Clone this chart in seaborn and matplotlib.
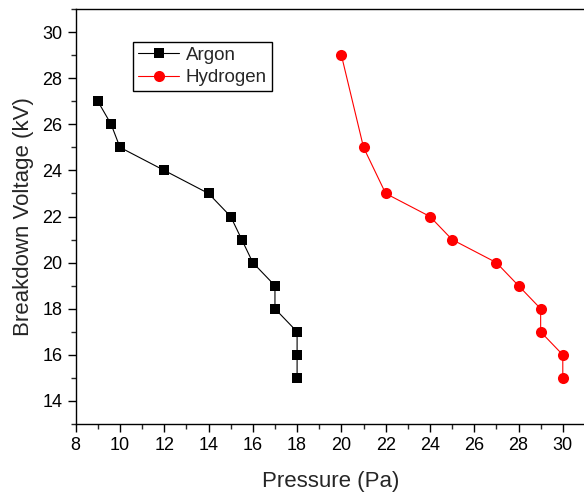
import numpy as np
import pandas as pd
import matplotlib
matplotlib.use("Agg")
import matplotlib.pyplot as plt
from matplotlib.ticker import MultipleLocator
import seaborn as sns

# Breakdown data
argon_pressure = [9, 9.6, 10, 12, 14, 15, 15.5, 16, 17, 17, 18, 18, 18]
argon_voltage = [27, 26, 25, 24, 23, 22, 21, 20, 19, 18, 17, 16, 15]

hydrogen_pressure = [20, 21, 22, 24, 25, 27, 28, 29, 29, 30, 30]
hydrogen_voltage = [29, 25, 23, 22, 21, 20, 19, 18, 17, 16, 15]

x_ticks = [8, 10, 12, 14, 16, 18, 20, 22, 24, 26, 28, 30]
y_ticks = [14, 16, 18, 20, 22, 24, 26, 28, 30]

sns.set_theme(style="ticks")
plt.rcParams['font.family'] = ['Liberation Sans', 'DejaVu Sans']

df_ar = pd.DataFrame({'Pressure': argon_pressure, 'Voltage': argon_voltage})
df_h2 = pd.DataFrame({'Pressure': hydrogen_pressure, 'Voltage': hydrogen_voltage})

fig = plt.figure(figsize=(5.84, 4.95), dpi=100)
ax = fig.add_axes([0.1296, 0.1434, 0.872, 0.8384])

sns.lineplot(data=df_ar, x='Pressure', y='Voltage', sort=False, estimator=None,
             color='black', marker='s', markersize=7, markeredgewidth=0,
             linewidth=0.8, label='Argon', ax=ax)
sns.lineplot(data=df_h2, x='Pressure', y='Voltage', sort=False, estimator=None,
             color='#ff0000', marker='o', markersize=8, markeredgewidth=0,
             linewidth=0.8, label='Hydrogen', ax=ax)

ax.set_xlim(8, 31)
ax.set_ylim(13, 31)
ax.set_xticks(x_ticks)
ax.set_yticks(y_ticks)
ax.xaxis.set_minor_locator(MultipleLocator(1))
ax.yaxis.set_minor_locator(MultipleLocator(1))
ax.tick_params(which='major', direction='out', length=6, width=1, labelsize=13, colors='black')
ax.tick_params(which='minor', direction='out', length=3.5, width=1)

ax.set_xlabel('Pressure (Pa)', fontsize=16, labelpad=12)
ax.set_ylabel('Breakdown Voltage (kV)', fontsize=16, labelpad=6)

ax.spines['right'].set_visible(False)
for s in ['top', 'left', 'bottom']:
    ax.spines[s].set_linewidth(1)
    ax.spines[s].set_color('black')

leg = ax.legend(loc='upper left', bbox_to_anchor=(0.113, 0.921), borderaxespad=0,
                fontsize=13.5, frameon=True, fancybox=False, edgecolor='black',
                handlelength=2.2, handletextpad=0.35, labelspacing=0.3,
                borderpad=0.25, framealpha=1)
leg.get_frame().set_linewidth(1)

fig.savefig('out.png', dpi=100)
